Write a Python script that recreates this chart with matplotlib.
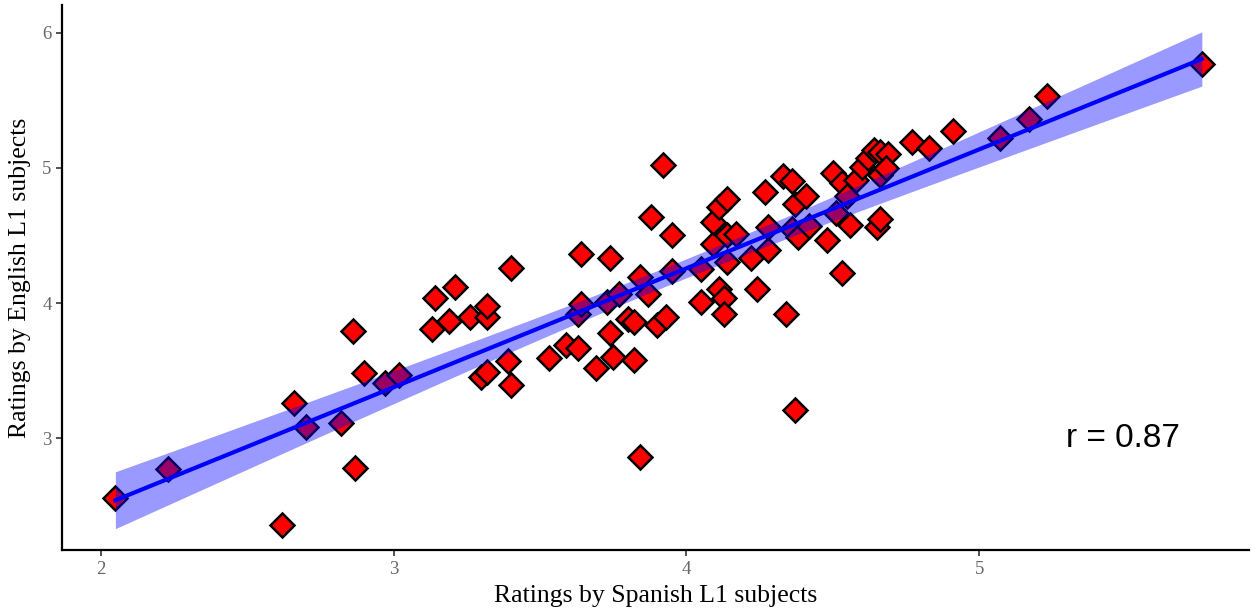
import numpy as np
import matplotlib
matplotlib.use('Agg')
import matplotlib.pyplot as plt

# Ratings
spanish = [2.05, 2.23, 2.62, 2.66, 2.70, 2.82, 2.86, 2.87, 2.90, 2.97,
           3.02, 3.13, 3.14, 3.19, 3.21, 3.26, 3.30, 3.32, 3.32, 3.32,
           3.39, 3.40, 3.40, 3.53, 3.59, 3.63, 3.63, 3.64, 3.64, 3.69,
           3.73, 3.74, 3.74, 3.75, 3.77, 3.80, 3.82, 3.82, 3.84, 3.84,
           3.87, 3.88, 3.90, 3.92, 3.93, 3.95, 3.95, 4.05, 4.05, 4.09,
           4.09, 4.11, 4.11, 4.13, 4.13, 4.14, 4.14, 4.14, 4.17, 4.22,
           4.24, 4.27, 4.28, 4.28, 4.34, 4.33, 4.36, 4.36, 4.37, 4.37,
           4.38, 4.41, 4.42, 4.48, 4.50, 4.51, 4.53, 4.53, 4.55, 4.56,
           4.58, 4.60, 4.62, 4.64, 4.66, 4.65, 4.66, 4.66, 4.69, 4.68,
           4.77, 4.83, 4.91, 5.07, 5.17, 5.23, 5.76]
english = [2.56, 2.77, 2.36, 3.26, 3.08, 3.11, 3.79, 2.78, 3.48, 3.41,
           3.47, 3.81, 4.04, 3.87, 4.12, 3.90, 3.45, 3.49, 3.90, 3.98,
           3.57, 3.39, 4.26, 3.59, 3.69, 3.67, 3.92, 3.99, 4.36, 3.52,
           4.01, 3.78, 4.33, 3.60, 4.07, 3.88, 3.58, 3.86, 2.86, 4.19,
           4.07, 4.64, 3.84, 5.02, 3.90, 4.50, 4.24, 4.01, 4.25, 4.44,
           4.60, 4.10, 4.71, 4.04, 3.92, 4.50, 4.77, 4.30, 4.51, 4.33,
           4.10, 4.82, 4.39, 4.56, 3.92, 4.94, 4.90, 4.55, 3.21, 4.73,
           4.49, 4.79, 4.57, 4.47, 4.96, 4.67, 4.89, 4.22, 4.79, 4.58,
           4.91, 5.01, 5.07, 5.13, 5.12, 4.56, 4.95, 4.62, 5.10, 5.00,
           5.19, 5.15, 5.27, 5.22, 5.36, 5.53, 5.77]
r_label = 'r = 0.87'

x = np.array(spanish)
y = np.array(english)

# linear fit with 95% confidence band (like geom_smooth(method='lm'))
slope, intercept = np.polyfit(x, y, 1)
n = len(x)
resid = y - (slope * x + intercept)
s = np.sqrt(np.sum(resid ** 2) / (n - 2))
xs = np.linspace(x.min(), x.max(), 200)
ys = slope * xs + intercept
se = s * np.sqrt(1.0 / n + (xs - x.mean()) ** 2 / np.sum((x - x.mean()) ** 2))
t = 1.985
lo, hi = ys - t * se, ys + t * se

fig = plt.figure(figsize=(12.56, 6.12), dpi=100)
ax = fig.add_axes([0.0494, 0.101, 0.945, 0.891])

ax.plot(x, y, linestyle='none', marker='D', markersize=12,
        markerfacecolor='red', markeredgecolor='black',
        markeredgewidth=1.8, zorder=2)
ax.fill_between(xs, lo, hi, color='#0000ff', alpha=0.4, linewidth=0, zorder=3)
ax.plot(xs, ys, color='#0000ff', linewidth=3, zorder=4)

ax.text(5.49, 3.0, r_label, fontsize=24, family='Liberation Sans',
        ha='center', va='center')

ax.set_xlim(1.868, 5.921)
ax.set_ylim(2.17, 6.207)
ax.set_xticks([2, 3, 4, 5])
ax.set_yticks([3, 4, 5, 6])

for side in ['top', 'right']:
    ax.spines[side].set_visible(False)
for side in ['left', 'bottom']:
    ax.spines[side].set_linewidth(1.6)
ax.tick_params(direction='out', length=4, width=1.2, labelsize=13.5,
               labelcolor='#666666', color='#333333')
for lab in ax.get_xticklabels() + ax.get_yticklabels():
    lab.set_family('Liberation Serif')

ax.set_xlabel('Ratings by Spanish L1 subjects', family='Liberation Serif',
              fontsize=18.5, labelpad=5)
ax.set_ylabel('Ratings by English L1 subjects', family='Liberation Serif',
              fontsize=18.5, labelpad=8)

fig.savefig('out.png', dpi=100)
